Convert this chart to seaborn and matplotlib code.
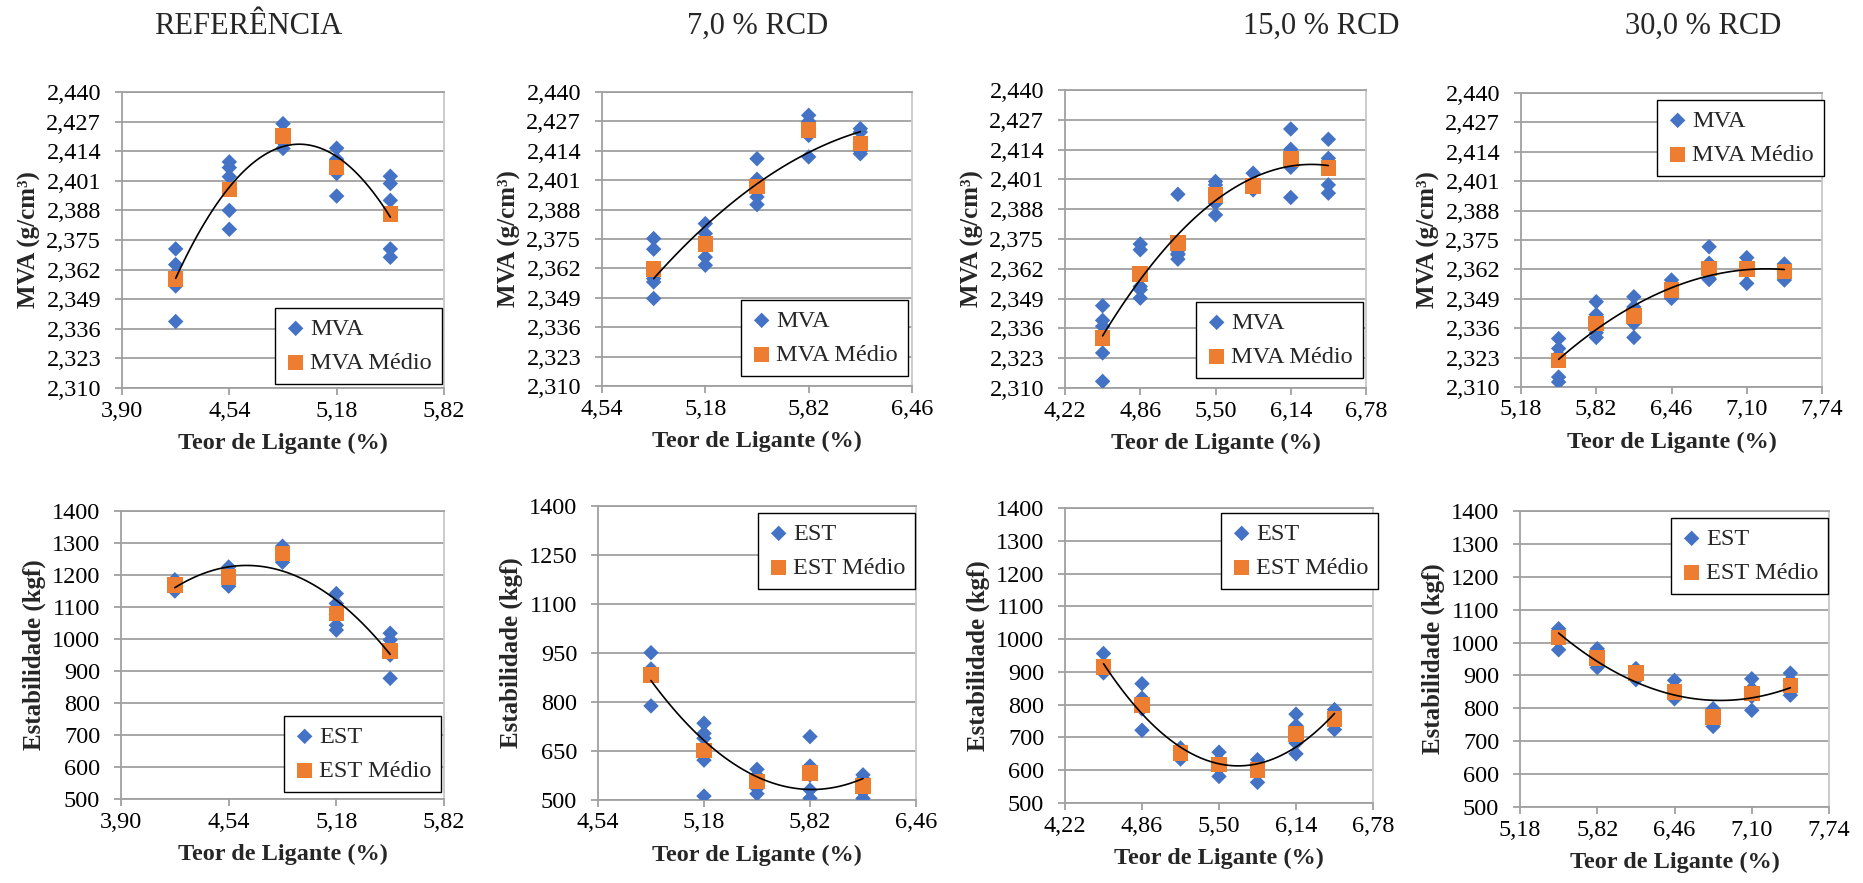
import numpy as np
import pandas as pd
import seaborn as sns
import matplotlib.pyplot as plt
from matplotlib.ticker import FuncFormatter

# Teor de ligante (%) de cada mistura
teor_ref = [4.22, 4.54, 4.86, 5.18, 5.50]
teor_7 = [4.86, 5.18, 5.50, 5.82, 6.14]
teor_15 = [4.54, 4.86, 5.18, 5.50, 5.82, 6.14, 6.46]
teor_30 = [5.50, 5.82, 6.14, 6.46, 6.78, 7.10, 7.42]

# MVA (g/cm3) - corpos de prova individuais
mva_ref = [[2.3711, 2.3642, 2.3602, 2.3548, 2.3392],
           [2.4093, 2.4068, 2.4028, 2.3880, 2.3797],
           [2.4261, 2.4225, 2.4200, 2.4180, 2.4152],
           [2.4153, 2.4105, 2.4098, 2.4042, 2.3943],
           [2.4030, 2.3998, 2.3924, 2.3711, 2.3674]]
mva_7 = [[2.3752, 2.3705, 2.3575, 2.3560, 2.3487],
         [2.3818, 2.3774, 2.3749, 2.3670, 2.3634],
         [2.4105, 2.4014, 2.3958, 2.3936, 2.3902],
         [2.4297, 2.4270, 2.4240, 2.4208, 2.4113],
         [2.4238, 2.4223, 2.4170, 2.4140, 2.4127]]
mva_15 = [[2.3459, 2.3395, 2.3369, 2.3253, 2.3129],
          [2.3728, 2.3703, 2.3543, 2.3529, 2.3492],
          [2.3945, 2.3700, 2.3686, 2.3681, 2.3662],
          [2.4001, 2.3986, 2.3962, 2.3906, 2.3855],
          [2.4037, 2.3995, 2.3980, 2.3970, 2.3964],
          [2.4230, 2.4141, 2.4125, 2.4063, 2.3931],
          [2.4185, 2.4102, 2.4072, 2.3986, 2.3950]]
mva_30 = [[2.3314, 2.3270, 2.3240, 2.3144, 2.3122],
          [2.3477, 2.3420, 2.3380, 2.3340, 2.3319],
          [2.3499, 2.3454, 2.3412, 2.3381, 2.3319],
          [2.3573, 2.3550, 2.3530, 2.3510, 2.3492],
          [2.3720, 2.3647, 2.3600, 2.3580, 2.3575],
          [2.3672, 2.3647, 2.3620, 2.3610, 2.3558],
          [2.3644, 2.3620, 2.3610, 2.3600, 2.3573]]

# MVA medio
mva_ref_medio = [2.3579, 2.3972, 2.4206, 2.4068, 2.3865]
mva_7_medio = [2.3617, 2.3729, 2.3983, 2.4231, 2.4172]
mva_15_medio = [2.3318, 2.3597, 2.3732, 2.3942, 2.3982, 2.4098, 2.4059]
mva_30_medio = [2.3218, 2.3381, 2.3413, 2.3528, 2.3624, 2.3621, 2.3610]

# Estabilidade (kgf) - corpos de prova individuais
est_ref = [[1185, 1175, 1165, 1160, 1150],
           [1225, 1210, 1195, 1175, 1165],
           [1290, 1280, 1265, 1260, 1240],
           [1142, 1111, 1076, 1043, 1028],
           [1018, 997, 975, 950, 877]]
est_7 = [[951, 901, 890, 885, 788],
         [735, 704, 689, 622, 512],
         [594, 575, 556, 536, 519],
         [694, 604, 576, 531, 505],
         [577, 565, 545, 525, 505]]
est_15 = [[956, 920, 910, 900, 897],
          [864, 820, 802, 787, 722],
          [668, 660, 652, 645, 634],
          [655, 630, 615, 605, 581],
          [632, 615, 600, 590, 563],
          [771, 736, 710, 683, 650],
          [785, 775, 760, 740, 724]]
est_30 = [[1042, 1030, 1015, 1005, 978],
          [981, 965, 950, 940, 924],
          [921, 915, 905, 895, 887],
          [885, 860, 845, 835, 829],
          [799, 785, 775, 765, 745],
          [890, 860, 845, 836, 794],
          [907, 885, 870, 850, 840]]

# Estabilidade media
est_ref_medio = [1168, 1194, 1267, 1080, 963]
est_7_medio = [883, 651, 556, 582, 543]
est_15_medio = [915, 799, 652, 617, 600, 710, 757]
est_30_medio = [1015, 953, 907, 850, 774, 845, 870]

titulos = ['REFERÊNCIA', '7,0 % RCD', '15,0 % RCD', '30,0 % RCD']
titulos_x = [248, 758, 1321, 1703]

W, H = 1863, 883
AZUL = '#4472C4'
LARANJA = '#ED7D31'
GRADE = '#A0A0A0'
FONTE = 'Liberation Serif'

sns.set_theme(style='white')
plt.rcParams['font.family'] = [FONTE, 'DejaVu Serif']

fig = plt.figure(figsize=(W / 100, H / 100), dpi=100)


def caixa(x0, x1, y0, y1):
    # converte caixa em pixels para coordenadas da figura
    return [x0 / W, 1 - y1 / H, (x1 - x0) / W, (y1 - y0) / H]


def fmt(dec):
    return FuncFormatter(lambda v, p: f'{v:.{dec}f}'.replace('.', ','))


def painel(pos, teor, pontos, medio, nome, ylabel, yticks, xticks, ydec, leg_xy):
    ax = fig.add_axes(pos)
    df = pd.DataFrame({'teor': np.repeat(teor, len(pontos[0])),
                       'valor': np.concatenate(pontos)})
    dm = pd.DataFrame({'teor': teor, 'valor': medio})

    sns.scatterplot(data=df, x='teor', y='valor', marker='D', s=62, color=AZUL,
                    edgecolor='none', label=nome, ax=ax, zorder=3)
    sns.scatterplot(data=dm, x='teor', y='valor', marker='s', s=125, color=LARANJA,
                    edgecolor='none', label=nome + ' Médio', ax=ax, zorder=4)

    # linha de tendencia polinomial (2a ordem)
    coef = np.polyfit(df['teor'], df['valor'], 2)
    xx = np.linspace(min(teor), max(teor), 100)
    ax.plot(xx, np.polyval(coef, xx), color='black', lw=1.2, zorder=5)

    ax.set_xlim(xticks[0], xticks[-1])
    ax.set_ylim(yticks[0], yticks[-1])
    ax.set_xticks(xticks)
    ax.set_yticks(yticks)
    ax.xaxis.set_major_formatter(fmt(2))
    ax.yaxis.set_major_formatter(fmt(ydec))
    ax.grid(axis='y', color=GRADE, lw=1.3)
    ax.grid(axis='x', visible=False)
    ax.set_axisbelow(True)
    for s in ['left', 'bottom', 'top', 'right']:
        ax.spines[s].set_color(GRADE)
        ax.spines[s].set_linewidth(1.3)
    ax.spines['right'].set_color('#C8C8C8')
    ax.tick_params(axis='both', which='major', labelsize=17.5, colors=GRADE,
                   labelcolor='black', length=5, width=1.3,
                   bottom=True, left=True, labelfontfamily=FONTE)
    ax.tick_params(axis='x', pad=4)
    ax.tick_params(axis='y', pad=10)
    ax.set_xlabel('Teor de Ligante (%)', fontsize=17.5, fontweight='bold', labelpad=8)
    ax.set_ylabel(ylabel, fontsize=18, fontweight='bold', labelpad=4)

    leg = ax.legend(loc='upper left', bbox_to_anchor=(leg_xy[0] / W, 1 - leg_xy[1] / H),
                    bbox_transform=fig.transFigure, borderaxespad=0, fontsize=17.5,
                    fancybox=False, framealpha=1, edgecolor='black', handlelength=0.9,
                    handletextpad=0.15, labelspacing=0.5, borderpad=0.4)
    leg.get_frame().set_linewidth(1.0)
    return ax


yt_mva = np.linspace(2.310, 2.440, 11)
yt_est = np.linspace(500, 1400, 10)
yt_est7 = np.linspace(500, 1400, 7)
xt_ref = np.linspace(3.90, 5.82, 4)
xt_7 = np.linspace(4.54, 6.46, 4)
xt_15 = np.linspace(4.22, 6.78, 5)
xt_30 = np.linspace(5.18, 7.74, 5)

mva_lbl = 'MVA (g/cm³)'
est_lbl = 'Estabilidade (kgf)'

painel(caixa(122, 444, 92, 388), teor_ref, mva_ref, mva_ref_medio, 'MVA', mva_lbl,
       yt_mva, xt_ref, 3, (275, 308))
painel(caixa(602, 912, 92, 386), teor_7, mva_7, mva_7_medio, 'MVA', mva_lbl,
       yt_mva, xt_7, 3, (741, 300))
painel(caixa(1065, 1366, 90, 388), teor_15, mva_15, mva_15_medio, 'MVA', mva_lbl,
       yt_mva, xt_15, 3, (1196, 302))
painel(caixa(1521, 1822, 93, 387), teor_30, mva_30, mva_30_medio, 'MVA', mva_lbl,
       yt_mva, xt_30, 3, (1657, 100))

painel(caixa(121, 444, 511, 799), teor_ref, est_ref, est_ref_medio, 'EST', est_lbl,
       yt_est, xt_ref, 0, (284, 716))
painel(caixa(598, 916, 506, 800), teor_7, est_7, est_7_medio, 'EST', est_lbl,
       yt_est7, xt_7, 0, (758, 513))
painel(caixa(1065, 1373, 508, 803), teor_15, est_15, est_15_medio, 'EST', est_lbl,
       yt_est, xt_15, 0, (1221, 513))
painel(caixa(1520, 1829, 511, 807), teor_30, est_30, est_30_medio, 'EST', est_lbl,
       yt_est, xt_30, 0, (1671, 518))

for t, x in zip(titulos, titulos_x):
    fig.text(x / W, 1 - 34 / H, t, ha='center', va='baseline', fontsize=22)

fig.savefig('out.png', dpi=100)
